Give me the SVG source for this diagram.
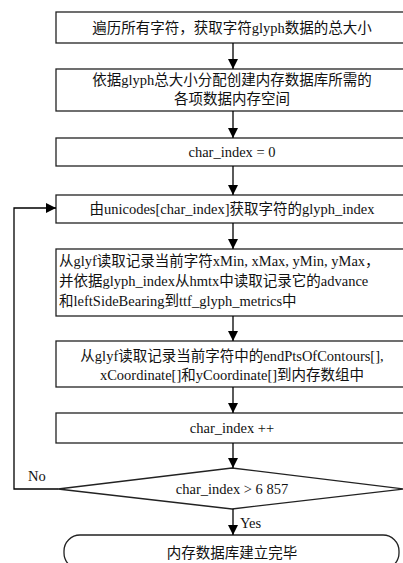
<svg xmlns="http://www.w3.org/2000/svg" width="403" height="563" viewBox="0 0 403 563">
<defs>
<marker id="ah" viewBox="0 0 10 10" refX="10" refY="5" markerWidth="10" markerHeight="10" markerUnits="userSpaceOnUse" orient="auto">
<path d="M0,0 L10,5 L0,10 Z" fill="#000"/>
</marker>
<style>
.b{fill:#fff;stroke:#222;stroke-width:1.3}
.t{font-family:"Liberation Serif","Noto Sans CJK SC",serif;font-size:14.5px;fill:#111}
.c{text-anchor:middle}
.l{fill:none;stroke:#000;stroke-width:1.3}
</style>
</defs>
<rect width="403" height="563" fill="#fff"/>
<g id="n1"><rect class="b" x="56" y="12" width="354" height="31"/><text class="t c" x="232" y="33">遍历所有字符，获取字符glyph数据的总大小</text></g>
<g id="n2"><rect class="b" x="56" y="69" width="354" height="42"/><text class="t c" x="232" y="85">依据glyph总大小分配创建内存数据库所需的</text><text class="t c" x="232" y="104">各项数据内存空间</text></g>
<g id="n3"><rect class="b" x="56" y="138" width="354" height="28"/><text class="t c" x="232" y="157">char_index = 0</text></g>
<g id="n4"><rect class="b" x="56" y="195" width="354" height="28"/><text class="t c" x="232" y="214">由unicodes[char_index]获取字符的glyph_index</text></g>
<g id="n5"><rect class="b" x="56" y="249" width="354" height="67"/><text class="t" x="59" y="266">从glyf读取记录当前字符xMin, xMax, yMin, yMax，</text><text class="t" x="59" y="286">并依据glyph_index从hmtx中读取记录它的advance</text><text class="t" x="59" y="306">和leftSideBearing到ttf_glyph_metrics中</text></g>
<g id="n6"><rect class="b" x="56" y="341" width="354" height="46"/><text class="t c" x="232" y="361">从glyf读取记录当前字符中的endPtsOfContours[],</text><text class="t c" x="232" y="380">xCoordinate[]和yCoordinate[]到内存数组中</text></g>
<g id="n7"><rect class="b" x="56" y="413" width="354" height="30"/><text class="t c" x="232" y="433">char_index ++</text></g>
<g id="n8"><path class="b" d="M58,489 L232,468 L404,489 L232,509 Z"/><text class="t c" x="232" y="494">char_index &gt; 6 857</text></g>
<g id="n9"><rect class="b" x="64" y="535" width="335" height="34" rx="16" ry="16"/><text class="t c" x="232" y="558">内存数据库建立完毕</text></g>
<g id="edges">
<line class="l" x1="233" y1="43" x2="233" y2="69" marker-end="url(#ah)"/>
<line class="l" x1="233" y1="111" x2="233" y2="138" marker-end="url(#ah)"/>
<line class="l" x1="233" y1="166" x2="233" y2="195" marker-end="url(#ah)"/>
<line class="l" x1="233" y1="223" x2="233" y2="249" marker-end="url(#ah)"/>
<line class="l" x1="233" y1="316" x2="233" y2="341" marker-end="url(#ah)"/>
<line class="l" x1="233" y1="387" x2="233" y2="413" marker-end="url(#ah)"/>
<line class="l" x1="233" y1="443" x2="233" y2="468" marker-end="url(#ah)"/>
<line class="l" x1="233" y1="509" x2="233" y2="535" marker-end="url(#ah)"/>
<polyline class="l" points="58,489 14,489 14,208 56,208" marker-end="url(#ah)"/>
<text class="t" x="28" y="481">No</text>
<text class="t" x="240" y="528">Yes</text>
</g>
</svg>
